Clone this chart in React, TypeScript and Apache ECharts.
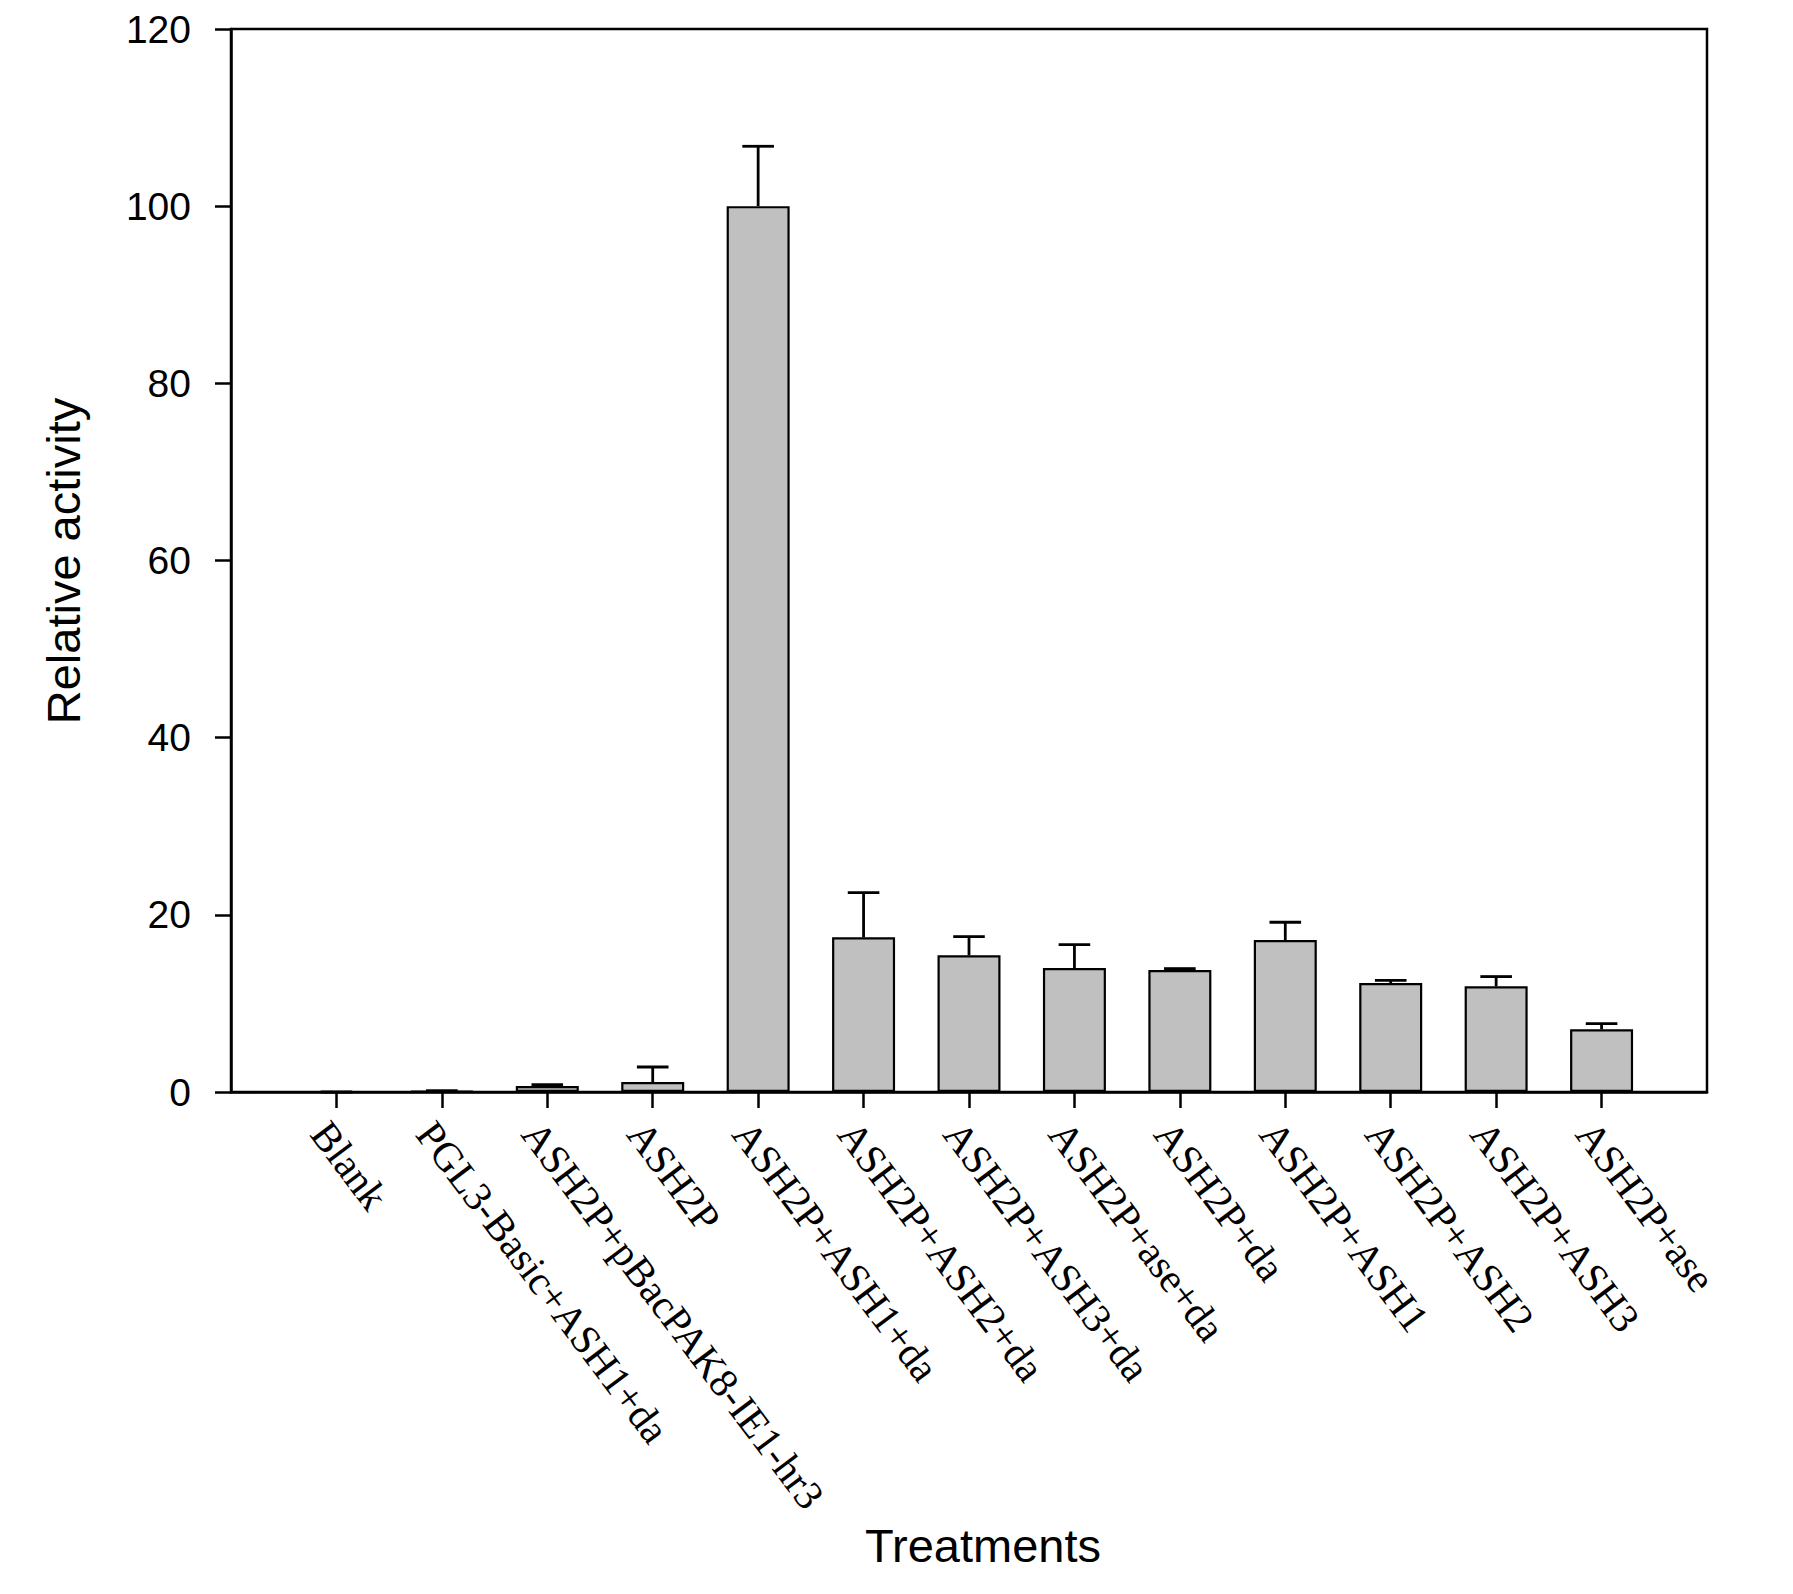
import React, { useEffect, useRef } from "react";
import * as echarts from "echarts";

const categories = [
  "Blank",
  "PGL3-Basic+ASH1+da",
  "ASH2P+pBacPAK8-IE1-hr3",
  "ASH2P",
  "ASH2P+ASH1+da",
  "ASH2P+ASH2+da",
  "ASH2P+ASH3+da",
  "ASH2P+ase+da",
  "ASH2P+da",
  "ASH2P+ASH1",
  "ASH2P+ASH2",
  "ASH2P+ASH3",
  "ASH2P+ase",
];
const values = [0, 0.1, 0.68, 1.13, 100, 17.46, 15.43, 14.0, 13.77, 17.16, 12.3, 11.93, 7.08];
const errors = [0, 0.05, 0.15, 1.69, 6.76, 5.04, 2.11, 2.64, 0.16, 2.0, 0.3, 1.1, 0.64];
const yTicks = { min: 0, max: 120, interval: 20 };
const yTitle = "Relative activity";
const xTitle = "Treatments";

export default function App() {
  const ref = useRef<HTMLDivElement>(null);
  useEffect(() => {
    document.body.style.margin = "0";
    if (!ref.current) return;
    const chart = echarts.init(ref.current, undefined, { renderer: "svg" });
    const axisCats = ["", ...categories, ""];
    const barData = [null, ...values, null];
    const errData: any[] = categories.map((c, i) => [i + 1, values[i], values[i] + errors[i]]);
    chart.setOption({
      animation: false,
      backgroundColor: "#ffffff",
      grid: {
        left: 231,
        right: 86,
        top: 29,
        bottom: 502,
        show: true,
        borderColor: "#000",
        borderWidth: 2.5,
        backgroundColor: "transparent",
      },
      xAxis: {
        type: "category",
        data: axisCats,
        boundaryGap: false,
        axisLine: { show: true, lineStyle: { color: "#000", width: 2.5 } },
        axisTick: {
          show: true,
          length: 16,
          inside: false,
          interval: (_i: number, v: string) => v !== "",
          lineStyle: { color: "#000", width: 2.5 },
        },
        axisLabel: {
          interval: 0,
          rotate: -53,
          margin: 22,
          verticalAlign: "top",
          color: "#000",
          fontFamily: "Liberation Serif",
          fontSize: 41,
        },
        splitLine: { show: false },
      },
      yAxis: {
        type: "value",
        min: yTicks.min,
        max: yTicks.max,
        interval: yTicks.interval,
        axisLine: { show: true, lineStyle: { color: "#000", width: 2.5 } },
        axisTick: { show: true, length: 16, inside: false, lineStyle: { color: "#000", width: 2.5 } },
        axisLabel: {
          margin: 40,
          color: "#000",
          fontFamily: "Liberation Sans",
          fontSize: 39,
        },
        splitLine: { show: false },
      },
      series: [
        {
          type: "bar",
          data: barData,
          barWidth: 63,
          itemStyle: { color: "#c0c0c0", borderColor: "#000", borderWidth: 2.2 },
          z: 3,
        },
        {
          type: "custom",
          data: errData,
          z: 2,
          renderItem: (_params: any, api: any) => {
            const x = api.value(0);
            const lo = api.coord([x, api.value(1)]);
            const hi = api.coord([x, api.value(2)]);
            const half = 15.8;
            const style = { stroke: "#000", lineWidth: 2.8 };
            return {
              type: "group",
              children: [
                { type: "line", shape: { x1: lo[0], y1: lo[1], x2: hi[0], y2: hi[1] }, style },
                { type: "line", shape: { x1: hi[0] - half, y1: hi[1], x2: hi[0] + half, y2: hi[1] }, style },
              ],
            };
          },
        },
      ],
      graphic: [
        {
          type: "text",
          x: 63,
          y: 561,
          rotation: Math.PI / 2,
          style: {
            text: yTitle,
            fill: "#000",
            fontFamily: "Liberation Sans",
            fontSize: 47,
            textAlign: "center",
            textVerticalAlign: "middle",
          },
        },
        {
          type: "text",
          x: 983,
          y: 1545,
          style: {
            text: xTitle,
            fill: "#000",
            fontFamily: "Liberation Sans",
            fontSize: 47,
            textAlign: "center",
            textVerticalAlign: "middle",
          },
        },
      ],
    });
    return () => chart.dispose();
  }, []);
  return <div ref={ref} style={{ width: 1793, height: 1594 }} />;
}
